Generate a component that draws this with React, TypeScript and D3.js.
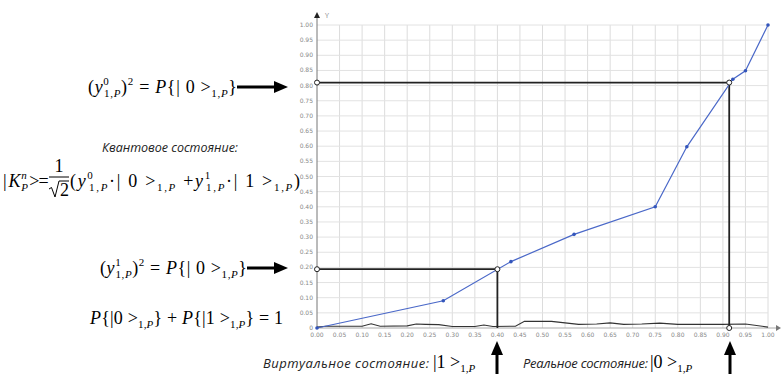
import React from "react";
import * as d3 from "d3";

const seriesX = [0, 0.28, 0.43, 0.57, 0.75, 0.82, 0.922, 0.95, 1.0];
const seriesY = [0, 0.09, 0.219, 0.309, 0.4, 0.598, 0.821, 0.849, 1.0];

const noiseX = [0, 0.02, 0.1, 0.12, 0.14, 0.2, 0.22, 0.24, 0.27, 0.3, 0.35, 0.37, 0.39, 0.44, 0.46, 0.52, 0.58, 0.62, 0.65, 0.68, 0.72, 0.76, 0.8, 0.85, 0.9, 0.95, 1.0];
const noiseY = [0.003, 0.006, 0.006, 0.014, 0.006, 0.007, 0.013, 0.012, 0.011, 0.005, 0.005, 0.01, 0.005, 0.006, 0.022, 0.022, 0.012, 0.013, 0.017, 0.012, 0.013, 0.016, 0.012, 0.012, 0.012, 0.013, 0.003];

const tickValues = [0, 0.05, 0.1, 0.15, 0.2, 0.25, 0.3, 0.35, 0.4, 0.45, 0.5, 0.55, 0.6, 0.65, 0.7, 0.75, 0.8, 0.85, 0.9, 0.95, 1.0];
const xTickLabels = ["0.00", "0.05", "0.10", "0.15", "0.20", "0.25", "0.30", "0.35", "0.40", "0.45", "0.50", "0.55", "0.60", "0.65", "0.70", "0.75", "0.80", "0.85", "0.90", "0.95", "1.00"];
const yTickLabels = ["0", "0.05", "0.10", "0.15", "0.20", "0.25", "0.30", "0.35", "0.40", "0.45", "0.50", "0.55", "0.60", "0.65", "0.70", "0.75", "0.80", "0.85", "0.90", "0.95", "1.00"];

const refX = [0.4, 0.914];
const refY = [0.194, 0.81];

const SERIF = "'Liberation Serif', 'DejaVu Serif', serif";
const SANS = "'Open Sans', 'DejaVu Sans', sans-serif";
const FS = 18;
const SS = 11;

const Sup = ({ t, it = false, dx = 0 }: { t: string; it?: boolean; dx?: number }) => (
  <tspan fontSize={SS} baselineShift={8} fontStyle={it ? "italic" : "normal"} dx={dx}>{t}</tspan>
);
const SubP = ({ dx = 0 }: { dx?: number }) => (
  <>
    <tspan fontSize={SS} baselineShift={-4} dx={dx}>1,</tspan>
    <tspan fontSize={SS} baselineShift={-4} fontStyle="italic">P</tspan>
  </>
);
const It = ({ t, dx = 0 }: { t: string; dx?: number }) => <tspan fontStyle="italic" dx={dx}>{t}</tspan>;

const HArrow = ({ x1, x2, y }: { x1: number; x2: number; y: number }) => (
  <g>
    <line x1={x1} x2={x2 - 12} y1={y} y2={y} stroke="#000" strokeWidth={3} />
    <path d={`M${x2 - 14},${y - 6} L${x2},${y} L${x2 - 14},${y + 6} Z`} fill="#000" />
  </g>
);
const VArrow = ({ x, y1, y2 }: { x: number; y1: number; y2: number }) => (
  <g>
    <line x1={x} x2={x} y1={y1} y2={y2 + 12} stroke="#000" strokeWidth={3} />
    <path d={`M${x - 6},${y2 + 14} L${x},${y2} L${x + 6},${y2 + 14} Z`} fill="#000" />
  </g>
);

export default function App() {
  const x = d3.scaleLinear().domain([0, 1]).range([317, 768]);
  const y = d3.scaleLinear().domain([0, 1]).range([328, 25]);
  const line = d3.line<number>().x((d, i) => x(seriesX[i])).y((d) => y(d));
  const noiseLine = d3.line<number>().x((d, i) => x(noiseX[i])).y((d) => y(d));

  return (
    <svg width={781} height={374} style={{ position: "absolute", left: 0, top: 0 }}>
      <rect width={781} height={374} fill="#fff" />
      {/* grid */}
      {tickValues.slice(1).map((t) => (
        <line key={"gx" + t} x1={x(t)} x2={x(t)} y1={y(1)} y2={y(0)} stroke="#dcdcdc" strokeWidth={1} />
      ))}
      {tickValues.slice(1).map((t) => (
        <line key={"gy" + t} x1={x(0)} x2={x(1)} y1={y(t)} y2={y(t)} stroke="#e2e2e2" strokeWidth={1} />
      ))}
      {/* axes */}
      <line x1={x(0)} x2={776} y1={y(0)} y2={y(0)} stroke="#aaa" strokeWidth={1} />
      <path d={`M776,${y(0) - 3} L781,${y(0)} L776,${y(0) + 3} Z`} fill="#777" />
      <line x1={x(0)} x2={x(0)} y1={18} y2={y(0)} stroke="#777" strokeWidth={1} />
      <path d={`M${x(0) - 3},18 L${x(0)},12 L${x(0) + 3},18 Z`} fill="#222" />
      <text x={325} y={18} fontFamily={SANS} fontSize={7} fill="#888">Y</text>
      {/* tick labels */}
      {tickValues.map((t, i) => (
        <text key={"yl" + t} x={313} y={y(t) + 2} textAnchor="end" fontFamily="'DejaVu Sans', sans-serif" fontSize={6} fill="#888">
          {yTickLabels[i]}
        </text>
      ))}
      {tickValues.map((t, i) => (
        <text key={"xl" + t} x={x(t)} y={337} textAnchor="middle" fontFamily="'DejaVu Sans', sans-serif" fontSize={6} fill="#888">
          {xTickLabels[i]}
        </text>
      ))}
      {/* noise */}
      <path d={noiseLine(noiseY) || ""} fill="none" stroke="#333" strokeWidth={1.1} />
      {/* reference lines */}
      {refY.map((ry, i) => (
        <g key={"ref" + i}>
          <line x1={x(0)} x2={x(refX[i])} y1={y(ry)} y2={y(ry)} stroke="#222" strokeWidth={1.8} />
          <line x1={x(refX[i])} x2={x(refX[i])} y1={y(ry)} y2={y(0)} stroke="#222" strokeWidth={1.8} />
        </g>
      ))}
      {/* series */}
      <path d={line(seriesY) || ""} fill="none" stroke="#4a68c8" strokeWidth={1.2} />
      {seriesY.map((v, i) => (
        <circle key={"p" + i} cx={x(seriesX[i])} cy={y(v)} r={1.8} fill="#3355bb" />
      ))}
      {/* markers */}
      {refY.map((ry, i) => (
        <g key={"m" + i}>
          <circle cx={x(0)} cy={y(ry)} r={2.5} fill="#fff" stroke="#222" strokeWidth={1} />
          <circle cx={x(refX[i])} cy={y(ry)} r={2.5} fill="#fff" stroke="#222" strokeWidth={1} />
        </g>
      ))}
      <circle cx={x(refX[1])} cy={y(0)} r={2.5} fill="#fff" stroke="#222" strokeWidth={1} />

      {/* formula 1 */}
      <text x={88} y={93} fontFamily={SERIF} fontSize={FS} textLength={149} lengthAdjust="spacing">
        <tspan>(</tspan><It t="y" /><Sup t="0" /><SubP dx={-5.5} /><tspan>)</tspan><Sup t="2" />
        <tspan> = </tspan><It t="P" /><tspan>{"{| 0 >"}</tspan><SubP /><tspan>{"}"}</tspan>
      </text>
      <HArrow x1={237} x2={288} y={87} />

      {/* quantum state label */}
      <text x={102} y={152} fontFamily={SANS} fontStyle="italic" fontSize={12.5} fill="#222" textLength={136} lengthAdjust="spacing">
        Квантовое состояние:
      </text>

      {/* formula 3 */}
      <text x={3} y={187} fontFamily={SERIF} fontSize={FS}>
        <tspan>|</tspan><It t="K" dx={2} /><Sup t="n" it dx={0.5} /><tspan fontSize={SS} baselineShift={-4} fontStyle="italic" dx={-5.5}>P</tspan><tspan dx={1.5} letterSpacing={-1}>&gt;=</tspan>
      </text>
      <text x={59} y={172} fontFamily={SERIF} fontSize={FS} textAnchor="middle">1</text>
      <line x1={49} x2={69} y1={177} y2={177} stroke="#000" strokeWidth={1} />
      <path d="M49,189 L51.5,187.5 L55,197 L59,181 L69,181" fill="none" stroke="#000" strokeWidth={1} />
      <text x={60} y={196} fontFamily={SERIF} fontSize={FS}>2</text>
      <text x={70} y={187} fontFamily={SERIF} fontSize={FS} textLength={230} lengthAdjust="spacing">
        <tspan>(</tspan><It t="y" /><Sup t="0" /><SubP dx={-5.5} /><tspan>·| 0 &gt;</tspan><SubP /><tspan> +</tspan>
        <It t="y" /><Sup t="1" /><SubP dx={-5.5} /><tspan>·| 1 &gt;</tspan><SubP /><tspan>)</tspan>
      </text>

      {/* formula 4 */}
      <text x={100} y={274} fontFamily={SERIF} fontSize={FS} textLength={147} lengthAdjust="spacing">
        <tspan>(</tspan><It t="y" /><Sup t="1" /><SubP dx={-5.5} /><tspan>)</tspan><Sup t="2" />
        <tspan> = </tspan><It t="P" /><tspan>{"{| 0 >"}</tspan><SubP /><tspan>{"}"}</tspan>
      </text>
      <HArrow x1={247} x2={288} y={268} />

      {/* formula 5 */}
      <text x={90} y={324} fontFamily={SERIF} fontSize={FS} textLength={193} lengthAdjust="spacing">
        <It t="P" /><tspan>{"{|0 >"}</tspan><SubP /><tspan>{"} + "}</tspan><It t="P" /><tspan>{"{|1 >"}</tspan><SubP /><tspan>{"} = 1"}</tspan>
      </text>

      {/* bottom labels */}
      <text x={263} y={368} fontFamily={SANS} fontStyle="italic" fontSize={13} fill="#222" textLength={166} lengthAdjust="spacing">
        Виртуальное состояние:
      </text>
      <text x={433} y={368} fontFamily={SERIF} fontSize={FS}>
        <tspan>|1 &gt;</tspan><SubP />
      </text>
      <VArrow x={497} y1={374} y2={341} />
      <text x={523} y={368} fontFamily={SANS} fontStyle="italic" fontSize={13} fill="#222" textLength={125} lengthAdjust="spacing">
        Реальное состояние:
      </text>
      <text x={650} y={368} fontFamily={SERIF} fontSize={FS}>
        <tspan>|0 &gt;</tspan><SubP />
      </text>
      <VArrow x={730} y1={374} y2={341} />
    </svg>
  );
}
